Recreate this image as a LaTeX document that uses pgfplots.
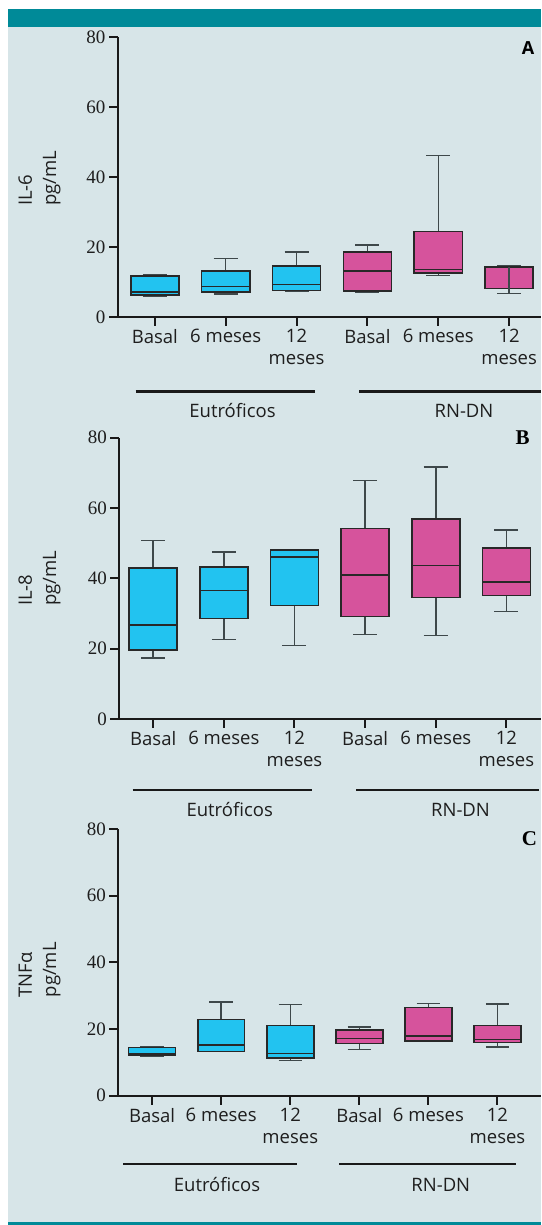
\documentclass[border=0pt]{standalone}
\usepackage{fontspec}
\setsansfont{Open Sans}
\newfontfamily\numfont{Liberation Serif}
\usepackage{pgfplots}
\pgfplotsset{compat=1.18}
\definecolor{tealbar}{RGB}{0,138,152}
\definecolor{bgc}{RGB}{215,229,232}
\definecolor{cyanbox}{RGB}{34,195,240}
\definecolor{pinkbox}{RGB}{214,83,156}
\definecolor{edgec}{RGB}{40,40,40}
\definecolor{whiskc}{RGB}{62,72,74}
\definecolor{axisc}{RGB}{25,25,25}
\definecolor{txtc}{RGB}{30,30,30}
\newcommand{\lblfont}{\sffamily\fontsize{18.5}{22}\selectfont}
\pgfplotsset{
  panel/.style={
    scale only axis, anchor=south west,
    axis lines*=left, ymin=0, ymax=80,
    ytick={0,20,40,60,80}, yticklabels={0,20,40,60,80},
    xtick={0,1,2,3,4,5},
    xticklabels={Basal,6 meses,{12\\meses},Basal,6 meses,{12\\meses}},
    tick align=outside, major tick length=9pt,
    axis line style={line width=2pt, draw=axisc},
    tick style={line width=2pt, draw=axisc},
    yticklabel style={font=\numfont\fontsize{19}{22}\selectfont, text=txtc},
    xticklabel style={font=\lblfont, align=center, text=txtc},
    clip=false, no markers,
  },
  wh/.style={draw=whiskc, line width=1.5pt, mark=none},
  md/.style={draw=edgec, line width=1.6pt, mark=none},
}
% box: position, lower whisker, lower quartile, median, upper quartile, upper whisker, colour
\newcommand{\bx}[7]{%
  \pgfmathsetmacro{\xa}{#1-0.34}%
  \pgfmathsetmacro{\xb}{#1+0.34}%
  \pgfmathsetmacro{\ca}{#1-0.17}%
  \pgfmathsetmacro{\cb}{#1+0.17}%
  \edef\tmpplots{%
    \noexpand\addplot[wh] coordinates {(#1,#2) (#1,#3)};
    \noexpand\addplot[wh] coordinates {(#1,#5) (#1,#6)};
    \noexpand\addplot[wh] coordinates {(\ca,#2) (\cb,#2)};
    \noexpand\addplot[wh] coordinates {(\ca,#6) (\cb,#6)};
    \noexpand\addplot[fill=#7, draw=edgec, line width=1.6pt, mark=none] coordinates {(\xa,#3) (\xb,#3) (\xb,#5) (\xa,#5)} -- cycle;
    \noexpand\addplot[md] coordinates {(\xa,#4) (\xb,#4)};
  }%
  \tmpplots
}
\begin{document}
\begin{tikzpicture}[x=1pt,y=1pt]
\useasboundingbox (0,0) rectangle (541,1225);
\fill[white] (0,0) rectangle (541,1225);
\fill[bgc] (8,3.4) rectangle (541,1197.5);
\fill[tealbar] (8,1197.5) rectangle (541,1216);
\fill[tealbar] (8,0) rectangle (541,3.4);

% ---------------- Panel A : IL-6
\begin{axis}[panel, at={(118pt,908pt)}, width=423pt, height=280pt, xmin=-0.52, xmax=5.45]
\bx{0}{5.8}{6.3}{7.2}{11.7}{12.1}{cyanbox}
\bx{1}{6.6}{7.1}{8.7}{13.2}{16.7}{cyanbox}
\bx{2}{7.4}{7.6}{9.3}{14.5}{18.6}{cyanbox}
\bx{3}{7.2}{7.5}{13.2}{18.5}{20.6}{pinkbox}
\bx{4}{11.9}{12.5}{13.6}{24.4}{46.1}{pinkbox}
\bx{5}{6.7}{8.1}{14.3}{14.3}{14.5}{pinkbox}
\addplot[wh] coordinates {(5,6.7) (5,14.3)};
\end{axis}

% ---------------- Panel B : IL-8
\begin{axis}[panel, at={(119.3pt,506pt)}, width=421.7pt, height=281.3pt, xmin=-0.48, xmax=5.49]
\bx{0}{17.3}{19.6}{26.8}{43.0}{50.7}{cyanbox}
\bx{1}{22.6}{28.6}{36.5}{43.3}{47.5}{cyanbox}
\bx{2}{20.9}{32.3}{46.0}{48.1}{48.1}{cyanbox}
\bx{3}{24.1}{29.2}{41.0}{54.2}{67.8}{pinkbox}
\bx{4}{23.8}{34.5}{43.6}{56.9}{71.7}{pinkbox}
\bx{5}{30.5}{35.1}{39.0}{48.7}{53.8}{pinkbox}
\end{axis}

% ---------------- Panel C : TNF-alpha
\begin{axis}[panel, at={(118.3pt,129.3pt)}, width=422.7pt, height=266.8pt, xmin=-0.49, xmax=5.63]
\bx{0}{11.8}{12.0}{12.5}{14.4}{14.6}{cyanbox}
\bx{1}{13.3}{13.3}{15.2}{22.9}{28.1}{cyanbox}
\bx{2}{10.6}{11.3}{12.7}{21.0}{27.3}{cyanbox}
\bx{3}{13.9}{15.7}{17.2}{19.7}{20.6}{pinkbox}
\bx{4}{16.4}{16.4}{17.9}{26.4}{27.6}{pinkbox}
\bx{5}{14.6}{15.9}{16.9}{21.0}{27.5}{pinkbox}
\end{axis}

% group lines and labels
\begin{scope}[line width=2.7pt, draw=axisc]
\draw (135.7,833.3) -- (315,833.3);
\draw (359,833.3) -- (541,833.3);
\draw (132.7,435) -- (312,435);
\draw (356,435) -- (539,435);
\draw (123,61) -- (297,61);
\draw (339,61) -- (516,61);
\end{scope}
\begin{scope}[every node/.style={font=\lblfont, text=txtc, anchor=base, inner sep=0}]
\node at (232.5,807) {Eutróficos};
\node at (464,807) {RN-DN};
\node at (229.7,408) {Eutróficos};
\node at (460.5,408) {RN-DN};
\node at (217,33) {Eutróficos};
\node at (440.8,33) {RN-DN};
\end{scope}

% y labels
\begin{scope}[every node/.style={font=\lblfont, text=txtc, rotate=90, anchor=base west, inner sep=0}]
\node at (32,1019) {IL-6};
\node at (56,1019) {pg/mL};
\node at (32,619) {IL-8};
\node at (56,619) {pg/mL};
\node at (32,227.5) {TNFα};
\node at (56,227.5) {pg/mL};
\end{scope}

% panel letters
\node[font=\sffamily\bfseries\fontsize{18}{20}\selectfont, anchor=base, inner sep=0] at (528,1170) {A};
\node[font=\numfont\bfseries\fontsize{21}{24}\selectfont, anchor=base, inner sep=0] at (522.5,780) {B};
\node[font=\numfont\bfseries\fontsize{21}{24}\selectfont, anchor=base, inner sep=0] at (529.5,379) {C};
\end{tikzpicture}
\end{document}
